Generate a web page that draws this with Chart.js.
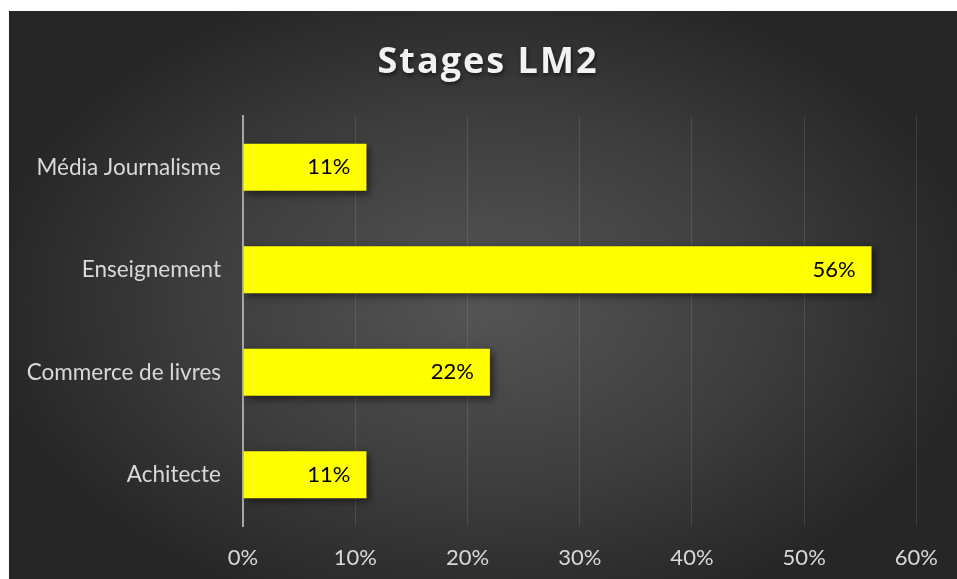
<!DOCTYPE html>
<html><head><meta charset="utf-8">
<script src="https://cdn.jsdelivr.net/npm/chart.js@4.4.0/dist/chart.umd.min.js"></script>
<style>
html,body{margin:0;padding:0;background:#fff;overflow:hidden}
#wrap{position:fixed;left:9px;top:11px;right:0;bottom:0;
background:radial-gradient(ellipse 500px 330px at 475px 290px, #555555 0%, #3e3e3e 55%, #262626 100%);}
#c{display:block}
</style></head>
<body>
<div id="wrap"><canvas id="c" width="948" height="568"></canvas></div>
<script>
const categories = ["Média Journalisme", "Enseignement", "Commerce de livres", "Achitecte"];
const values = [0.11, 0.56, 0.22, 0.11];
const valueLabels = ["11%", "56%", "22%", "11%"];
const xTicks = [0, 0.1, 0.2, 0.3, 0.4, 0.5, 0.6];
const titleText = "Stages LM2";

const FONT = "Lato, 'Open Sans', sans-serif";

const titlePlugin = {
  id: 'titleDraw',
  afterDraw(chart){
    const ctx = chart.ctx;
    ctx.save();
    ctx.font = "bold 36px 'Open Sans', sans-serif";
    ctx.letterSpacing = "2px";
    ctx.fillStyle = "#f2f2f2";
    ctx.textAlign = "center";
    ctx.textBaseline = "middle";
    ctx.shadowColor = "rgba(0,0,0,0.6)";
    ctx.shadowBlur = 4;
    ctx.shadowOffsetX = 1;
    ctx.shadowOffsetY = 2;
    ctx.fillText(titleText, chart.width/2 + 5, 52);
    ctx.restore();
  }
};

const shadowPlugin = {
  id: 'barShadow',
  beforeDatasetsDraw(chart){
    const ctx = chart.ctx;
    ctx.save();
    ctx.shadowColor = "rgba(0,0,0,0.55)";
    ctx.shadowBlur = 8;
    ctx.shadowOffsetX = 3;
    ctx.shadowOffsetY = 3;
  },
  afterDatasetsDraw(chart){
    chart.ctx.restore();
    const ctx = chart.ctx;
    const meta = chart.getDatasetMeta(0);
    ctx.save();
    ctx.font = "22px " + FONT;
    ctx.fillStyle = "#000";
    ctx.textAlign = "right";
    ctx.textBaseline = "middle";
    meta.data.forEach((bar, i) => {
      ctx.fillText(valueLabels[i], bar.x - 16, bar.y);
    });
    ctx.restore();
  }
};

new Chart(document.getElementById('c'), {
  type: 'bar',
  data: {
    labels: categories,
    datasets: [{
      data: values,
      backgroundColor: '#ffff00',
      borderWidth: 0,
      barPercentage: 0.46,
      categoryPercentage: 1
    }]
  },
  options: {
    indexAxis: 'y',
    responsive: false,
    animation: false,
    layout: { padding: { top: 105, right: 37, bottom: 11, left: 0 } },
    plugins: { legend: { display: false }, title: { display: false }, tooltip: { enabled: false } },
    scales: {
      x: {
        min: 0, max: 0.6,
        afterBuildTicks(scale){ scale.ticks = xTicks.map(v => ({ value: v })); },
        ticks: {
          color: '#d9d9d9',
          font: { family: FONT, size: 22 },
          padding: 19,
          callback: v => Math.round(v*100) + '%'
        },
        grid: { color: 'rgba(255,255,255,0.11)', lineWidth: 1, drawTicks: false },
        border: { display: false },
        afterFit(scale){ scale.height = 42; }
      },
      y: {
        ticks: {
          color: '#d9d9d9',
          font: { family: FONT, size: 22.5 },
          padding: 22
        },
        grid: { display: false, drawTicks: false },
        border: { display: true, color: '#a6a6a6', width: 2 },
        afterFit(scale){ scale.width = 234; }
      }
    }
  },
  plugins: [shadowPlugin, titlePlugin]
});
</script>
</body></html>
